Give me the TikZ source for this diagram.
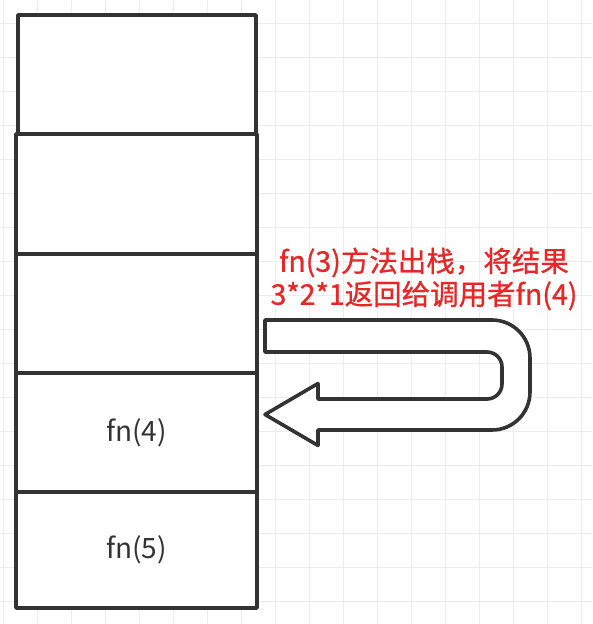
\documentclass[tikz,border=0pt]{standalone}
\usepackage{fontspec}
\setmainfont{Noto Sans CJK SC}
\usetikzlibrary{calc}
\definecolor{ink}{RGB}{51,51,51}
\definecolor{redtxt}{RGB}{232,38,38}
\definecolor{gridc}{RGB}{236,236,236}
\tikzset{
  frame/.style={draw=ink, line width=3.6pt, line join=round, fill=white, inner sep=0pt},
  lbl/.style={text=ink, font=\fontsize{28}{32}\selectfont},
  note/.style={text=redtxt, font=\fontsize{28.5}{33}\selectfont\addfontfeature{FakeBold=0.8}, align=center},
  blockarrow/.style={draw=ink, line width=3.6pt, line join=round, fill=white},
}
\begin{document}
\begin{tikzpicture}[x=1pt,y=1pt]
\useasboundingbox (0,0) rectangle (592,624);
\fill[white] (0,0) rectangle (592,624);
% grid
\foreach \k in {0,...,17} {
  \draw[gridc, line width=0.8pt] ({3+34*\k},0) -- ({3+34*\k},624);
  \draw[gridc, line width=0.8pt] (0,{601-34*\k}) -- (592,{601-34*\k});
}
% stack
\node[frame, minimum width=238pt, minimum height=119pt] (s1) at (137,549.5) {};
\node[frame, minimum width=241pt, minimum height=120pt] (s2) at (136.5,430) {};
\node[frame, minimum width=241pt, minimum height=119pt] (s3) at (136.5,310.5) {};
\node[frame, minimum width=241pt, minimum height=119pt] (s4) at (136.5,191.5) {};
\node[frame, minimum width=241pt, minimum height=116pt] (s5) at (136.5,74) {};
\node[lbl] (t4) at (s4.center) {fn(4)};
\node[lbl] (t5) at (s5.center) {fn(5)};
% U-shaped return arrow
\draw[blockarrow] (265,304) -- (492,304) arc[start angle=90, end angle=0, radius=38]
  -- (530,232) arc[start angle=0, end angle=-90, radius=38]
  -- (318,194) -- (318,178.5) -- (265,209.5) -- (318,240.5) -- (318,225) -- (487,225)
  arc[start angle=-90, end angle=0, radius=15] -- (502,257)
  arc[start angle=0, end angle=90, radius=15] -- (265,272) -- cycle;
% note
\node[note] (n) at (424,345) {fn(3)方法出栈，将结果\\3*2*1返回给调用者fn(4)};
\end{tikzpicture}
\end{document}
